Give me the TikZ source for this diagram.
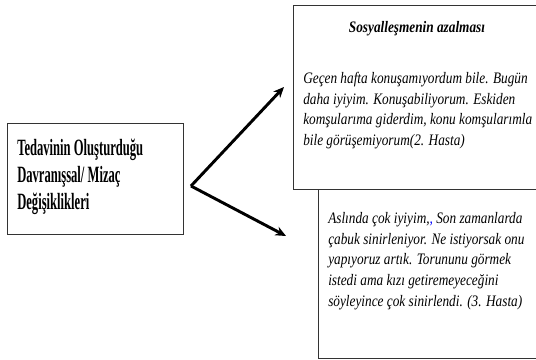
\documentclass[tikz,border=0pt]{standalone}
\usepackage{fontspec}
\setmainfont{Liberation Serif}
\newfontfamily\boldcond[FakeStretch=0.54]{Liberation Serif}
\newfontfamily\italcond[FakeStretch=0.83]{Liberation Serif}
\usetikzlibrary{arrows.meta}
\newcommand{\setpoints}{
    \coordinate (c0) at (7,123);    % left box corner
    \coordinate (c1) at (293,5);    % upper box corner
    \coordinate (c2) at (318,189);  % lower box corner

    \coordinate (t0) at (17,139);
    \coordinate (t1) at (417,33);
    \coordinate (t2) at (303,72);
    \coordinate (t3) at (328,212);

    \coordinate (fork) at (191,186);
    \coordinate (tipA) at (284,87);
    \coordinate (tipB) at (286,236);
}
\tikzset{
    box/.style={draw=black!80,line width=1pt,anchor=north west,inner sep=0pt},
    txt/.style={anchor=north west,inner sep=0pt,align=left},
    italtxt/.style={font=\italcond\itshape\fontsize{12}{15.5}\selectfont},
    arr/.style={line width=2.2pt,-{Stealth[length=8pt,width=7pt]}},
}
\begin{document}
\begin{tikzpicture}[x=0.75pt,y=-0.75pt]
    \useasboundingbox (0,0) rectangle (536,360);
    \clip (0,0) rectangle (536,360);
    \setpoints;

    \node[box,minimum width=132pt,minimum height=83.25pt] (cause) at (c0) {};
    \node[box,minimum width=180pt,minimum height=126.75pt] (boxB) at (c2) {};
    \node[box,minimum width=190pt,minimum height=138pt] (boxA) at (c1) {};

    \node[txt,font=\boldcond\bfseries\fontsize{17.5}{20.25}\selectfont] (causetxt) at (t0)
        {Tedavinin Oluşturduğu\\Davranışsal/ Mizaç\\Değişiklikleri};
    \node[font=\italcond\bfseries\itshape\fontsize{12}{15.5}\selectfont,anchor=base,inner sep=0pt] (titleA) at (t1) {Sosyalleşmenin azalması};
    \node[txt,italtxt] (bodyA) at (t2)
        {Geçen hafta konuşamıyordum bile. Bugün\\daha iyiyim. Konuşabiliyorum. Eskiden\\komşularıma giderdim, konu komşularımla\\bile görüşemiyorum(2. Hasta)};
    \node[txt,italtxt] (bodyB) at (t3)
        {Aslında çok iyiyim,{\color{blue},} Son zamanlarda\\çabuk sinirleniyor. Ne istiyorsak onu\\yapıyoruz artık. Torununu görmek\\istedi ama kızı getiremeyeceğini\\söyleyince çok sinirlendi. (3. Hasta)};

    \draw[arr] (fork) -- (tipA);
    \draw[arr] (fork) -- (tipB);
\end{tikzpicture}
\end{document}
